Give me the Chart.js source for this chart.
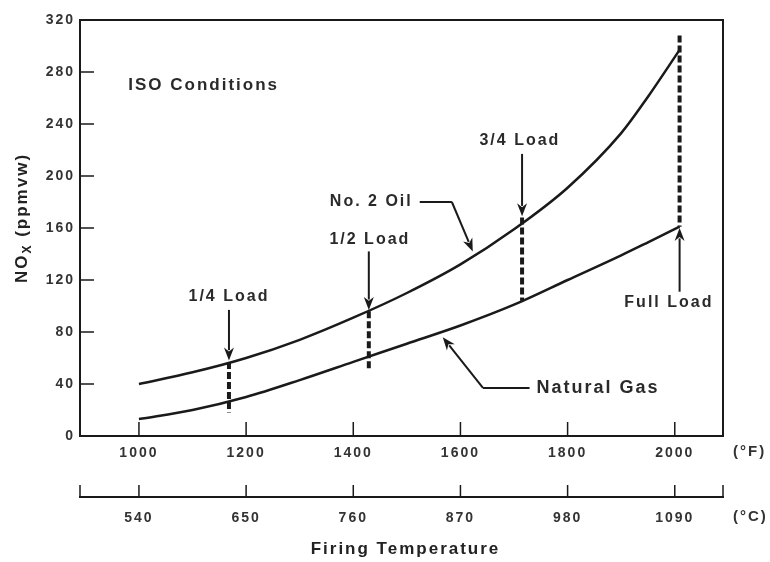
<!DOCTYPE html>
<html>
<head>
<meta charset="utf-8">
<script src="https://cdn.jsdelivr.net/npm/chart.js@4/dist/chart.umd.min.js"></script>
<style>
html, body { margin: 0; background: #fff; }
#wrap { width: 770px; height: 562px; }
</style>
</head>
<body>
<div id="wrap"><canvas id="nox"></canvas></div>
<script>
// firing temperature (F) and NOx (ppmvw)
const tempF = [1000, 1100, 1200, 1300, 1400, 1500, 1600, 1700, 1800, 1900, 1950, 2009];
const oilNox = [40, 49, 60, 74, 91, 110, 132, 159, 191, 233, 261, 297];
const gasNox = [13, 20, 30, 43, 57, 71, 85, 101, 120, 139, 149, 161];

// load markers (1/4, 1/2, 3/4, full)
const loadTemps = [1168, 1429, 1715, 2009];
const loadHigh = [57, 96, 168, 308];
const loadLow = [18, 50, 104, 161];

const fTicks = [1000, 1200, 1400, 1600, 1800, 2000];
const cLabels = ['540', '650', '760', '870', '980', '1090'];
const yTicks = [0, 40, 80, 120, 160, 200, 240, 280, 320];

const FONT = "'Liberation Sans', Arial, sans-serif";
const INK = '#1a1a1a';

function pts(xs, ys) {
    return xs.map((x, i) => ({ x: x, y: ys[i] }));
}

let datasets = [
    { data: pts(tempF, oilNox), borderColor: INK, borderWidth: 2.5, pointRadius: 0, cubicInterpolationMode: 'monotone' },
    { data: pts(tempF, gasNox), borderColor: INK, borderWidth: 2.5, pointRadius: 0, cubicInterpolationMode: 'monotone' }
];
loadTemps.forEach((t, i) => {
    datasets.push({
        data: [{ x: t, y: loadHigh[i] }, { x: t, y: loadLow[i] }],
        borderColor: INK, borderWidth: 4, borderDash: [7, 3], pointRadius: 0
    });
});

function arrow(ctx, x1, y1, x2, y2) {
    const a = Math.atan2(y2 - y1, x2 - x1);
    const len = 13, w = 5;
    ctx.beginPath();
    ctx.moveTo(x1, y1);
    ctx.lineTo(x2 - Math.cos(a) * len * 0.8, y2 - Math.sin(a) * len * 0.8);
    ctx.stroke();
    ctx.beginPath();
    ctx.moveTo(x2, y2);
    ctx.lineTo(x2 - Math.cos(a) * len - Math.sin(a) * w, y2 - Math.sin(a) * len + Math.cos(a) * w);
    ctx.lineTo(x2 - Math.cos(a) * len * 0.7, y2 - Math.sin(a) * len * 0.7);
    ctx.lineTo(x2 - Math.cos(a) * len + Math.sin(a) * w, y2 - Math.sin(a) * len - Math.cos(a) * w);
    ctx.closePath();
    ctx.fill();
}

// the scanned figure has wide-set lettering
const spacing = {
    id: 'spacing',
    beforeDraw(chart) {
        if ('letterSpacing' in chart.ctx) chart.ctx.letterSpacing = '2px';
    }
};

const decor = {
    id: 'decor',
    afterDraw(chart) {
        const ctx = chart.ctx;
        const area = chart.chartArea;
        const x = chart.scales.x, y = chart.scales.y, c = chart.scales.c;
        const px = v => x.getPixelForValue(v);
        const py = v => y.getPixelForValue(v);
        ctx.save();
        if ('letterSpacing' in ctx) ctx.letterSpacing = '2px';
        ctx.strokeStyle = INK;
        ctx.fillStyle = INK;

        // frame top and right
        ctx.lineWidth = 2;
        ctx.beginPath();
        ctx.moveTo(area.left, area.top);
        ctx.lineTo(area.right, area.top);
        ctx.lineTo(area.right, area.bottom);
        ctx.stroke();

        // inside ticks
        ctx.lineWidth = 1.5;
        ctx.beginPath();
        yTicks.slice(1, -1).forEach(v => {
            ctx.moveTo(area.left, py(v));
            ctx.lineTo(area.left + 14, py(v));
        });
        fTicks.forEach(v => {
            ctx.moveTo(px(v), area.bottom);
            ctx.lineTo(px(v), area.bottom - 14);
            ctx.moveTo(px(v), c.top);
            ctx.lineTo(px(v), c.top - 12);
        });
        ctx.moveTo(c.left, c.top);
        ctx.lineTo(c.left, c.top - 12);
        ctx.moveTo(c.right, c.top);
        ctx.lineTo(c.right, c.top - 12);
        ctx.stroke();

        // unit labels
        ctx.font = 'bold 15px ' + FONT;
        ctx.fillStyle = '#333';
        ctx.textAlign = 'left';
        ctx.textBaseline = 'middle';
        ctx.fillText('(°F)', 733, 452);
        ctx.fillText('(°C)', 733, 517);

        // x title
        ctx.textAlign = 'center';
        ctx.font = 'bold 17px ' + FONT;
        ctx.fillStyle = '#222';
        ctx.fillText('Firing Temperature', (area.left + area.right) / 2 + 4, 549);

        // y title with subscript
        ctx.save();
        ctx.translate(22, 218);
        ctx.rotate(-Math.PI / 2);
        ctx.textAlign = 'left';
        const big = 'bold 17px ' + FONT, small = 'bold 12px ' + FONT;
        ctx.font = big;
        const w1 = ctx.measureText('NO').width;
        const w3 = ctx.measureText(' (ppmvw)').width;
        ctx.font = small;
        const w2 = ctx.measureText('X').width;
        let sx = -(w1 + w2 + w3) / 2;
        ctx.font = big;
        ctx.fillText('NO', sx, 0);
        ctx.font = small;
        ctx.fillText('X', sx + w1, 6);
        ctx.font = big;
        ctx.fillText(' (ppmvw)', sx + w1 + w2, 0);
        ctx.restore();

        // annotations
        ctx.fillStyle = '#2a2a2a';
        ctx.font = 'bold 17px ' + FONT;
        ctx.textAlign = 'left';
        ctx.fillText('ISO Conditions', px(980), py(270));

        ctx.font = 'bold 16px ' + FONT;
        ctx.textAlign = 'center';
        ctx.fillText('1/4 Load', px(1168), py(107));
        ctx.fillText('1/2 Load', px(1431), py(151));
        ctx.fillText('3/4 Load', px(1711), py(227));
        ctx.fillText('Full Load', px(1989), py(103));
        ctx.textAlign = 'right';
        ctx.fillText('No. 2 Oil', px(1511), py(180));
        ctx.textAlign = 'left';
        ctx.font = 'bold 18px ' + FONT;
        ctx.fillText('Natural Gas', px(1742), py(37));

        ctx.fillStyle = INK;
        ctx.lineWidth = 2;
        arrow(ctx, px(1168), py(97), px(1168), py(58));
        arrow(ctx, px(1429), py(142), px(1429), py(97));
        arrow(ctx, px(1715), py(217), px(1715), py(169));
        arrow(ctx, px(2009), py(111), px(2009), py(160));

        ctx.beginPath();
        ctx.moveTo(px(1524), py(180));
        ctx.lineTo(px(1584), py(180));
        ctx.stroke();
        arrow(ctx, px(1584), py(180), px(1623), py(142));
        ctx.beginPath();
        ctx.moveTo(px(1729), py(37));
        ctx.lineTo(px(1642), py(37));
        ctx.stroke();
        arrow(ctx, px(1642), py(37), px(1567), py(76));

        ctx.restore();
    }
};

new Chart(document.getElementById('nox'), {
    type: 'line',
    data: { datasets: datasets },
    options: {
        responsive: true,
        maintainAspectRatio: false,
        animation: false,
        layout: { padding: { left: 0, right: 47, top: 20, bottom: 0 } },
        plugins: { legend: { display: false }, tooltip: { enabled: false } },
        scales: {
            x: {
                type: 'linear',
                position: 'bottom',
                min: 890,
                max: 2090,
                afterBuildTicks: s => { s.ticks = fTicks.map(v => ({ value: v })); },
                afterFit: s => { s.height = 61; },
                grid: { drawOnChartArea: false, drawTicks: false },
                border: { color: INK, width: 2 },
                ticks: {
                    padding: 9, color: '#333', font: { family: FONT, size: 14, weight: 'bold' },
                    callback: v => String(v)
                }
            },
            c: {
                type: 'linear',
                position: 'bottom',
                min: 890,
                max: 2090,
                afterBuildTicks: s => { s.ticks = fTicks.map(v => ({ value: v })); },
                afterFit: s => { s.height = 65; },
                grid: { drawOnChartArea: false, drawTicks: false },
                border: { color: INK, width: 2 },
                ticks: {
                    padding: 13, color: '#333', font: { family: FONT, size: 14, weight: 'bold' },
                    callback: (v, i) => cLabels[i]
                }
            },
            y: {
                min: 0,
                max: 320,
                afterBuildTicks: s => { s.ticks = yTicks.map(v => ({ value: v })); },
                afterFit: s => { s.width = 80; },
                grid: { drawOnChartArea: false, drawTicks: false },
                border: { color: INK, width: 2 },
                ticks: { padding: 5, color: '#333', font: { family: FONT, size: 14, weight: 'bold' } }
            }
        }
    },
    plugins: [spacing, decor]
});
</script>
</body>
</html>
